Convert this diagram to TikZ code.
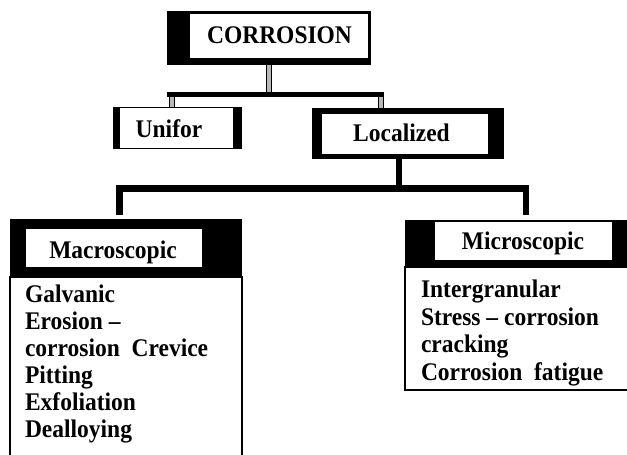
\documentclass[tikz,border=0pt]{standalone}
\usepackage{fontspec}
\setmainfont{Liberation Serif}
\newcommand{\vst}[1]{\scalebox{1}[1.08]{#1}}
\begin{document}
\begin{tikzpicture}[x=1pt,y=-1pt,
  blk/.style={fill=black, draw=none, inner sep=0pt, outer sep=0pt, rectangle},
  wht/.style={fill=white, draw=none, inner sep=0pt, outer sep=0pt, rectangle},
  bodybox/.style={fill=white, draw=black, line width=1.2pt, inner sep=0pt, outer sep=0pt, rectangle},
  lbl/.style={font=\bfseries\fontsize{23.5}{28}\selectfont, inner sep=0pt, outer sep=0pt, anchor=base},
  item/.style={lbl, anchor=base west},
  dbl/.style={draw=black, double=gray!55, double distance=4pt, line width=1pt},
  bar/.style={line width=6.5pt, line join=miter, line cap=butt}]
\useasboundingbox (0,0) rectangle (627,455);
\clip (0,0) rectangle (627,455);

% CORROSION
\node[blk, minimum width=204pt, minimum height=54pt] (corr) at (269,38) {};
\node[wht, minimum width=178pt, minimum height=44pt] (corrin) at (279,36) {};
\node[lbl] (corrt) at (279.5,43) {\vst{CORROSION}};

% Unifor
\node[blk, minimum width=129pt, minimum height=42pt] (unif) at (177.5,128) {};
\node[wht, minimum width=113pt, minimum height=40pt] (unifin) at (176.5,128) {};
\node[lbl] (unift) at (169,137) {\vst{Unifor}};

% Localized
\node[blk, minimum width=192pt, minimum height=51pt] (loc) at (408,133.5) {};
\node[wht, minimum width=166pt, minimum height=40pt] (locin) at (405,134) {};
\node[lbl] (loct) at (401.5,141) {\vst{Localized}};

% Macroscopic
\node[bodybox, minimum width=232pt, minimum height=193pt] (macbody) at (126,373.5) {};
\node[blk, minimum width=232pt, minimum height=58pt] (mac) at (126,248) {};
\node[wht, minimum width=176pt, minimum height=38pt] (macin) at (114,248) {};
\node[lbl] (mact) at (113,258) {\vst{Macroscopic}};

% Microscopic
\node[bodybox, minimum width=235pt, minimum height=123pt, line width=1.2pt] (micbody) at (522.5,328.5) {};
\draw[line width=2pt] (micbody.south west) -- (micbody.south east);
\node[blk, minimum width=235pt, minimum height=47pt] (mic) at (522.5,243.5) {};
\node[wht, minimum width=177pt, minimum height=38pt] (micin) at (523.5,241) {};
\node[lbl] (mict) at (523,249) {\vst{Microscopic}};

% Items
\foreach \t [count=\i] in {Galvanic, Erosion –, corrosion\hspace{0.5em}Crevice, Pitting, Exfoliation, Dealloying}
  \node[item] (ma\i) at (25,{302+27*(\i-1)}) {\vst{\t}};
\foreach \t [count=\i] in {Intergranular, Stress – corrosion, cracking, Corrosion\hspace{0.5em}fatigue}
  \node[item] (mi\i) at (421,{297.5+27.6*(\i-1)}) {\vst{\t}};

% top connectors
\coordinate (b1l) at (167,94.5);
\coordinate (b1r) at (384,94.5);
\coordinate (d1) at (171.5,97);
\coordinate (d2) at (381,97);
\draw[dbl] (corr.south) -- (corr.south |- 0,92);
\draw[line width=5pt, line cap=butt] (b1l) -- (b1r);
\draw[dbl] (d1) -- (d1 |- unif.north);
\draw[dbl] (d2) -- (d2 |- loc.north);

% bottom connectors
\coordinate (j2) at (399,188.5);
\coordinate (b2l) at (119.5,188.5);
\coordinate (b2r) at (526,188.5);
\draw[bar] (j2 |- loc.south) -- (j2);
\draw[bar] (b2l |- 0,215) -- (b2l) -- (b2r) -- (b2r |- 0,215);
\end{tikzpicture}
\end{document}
